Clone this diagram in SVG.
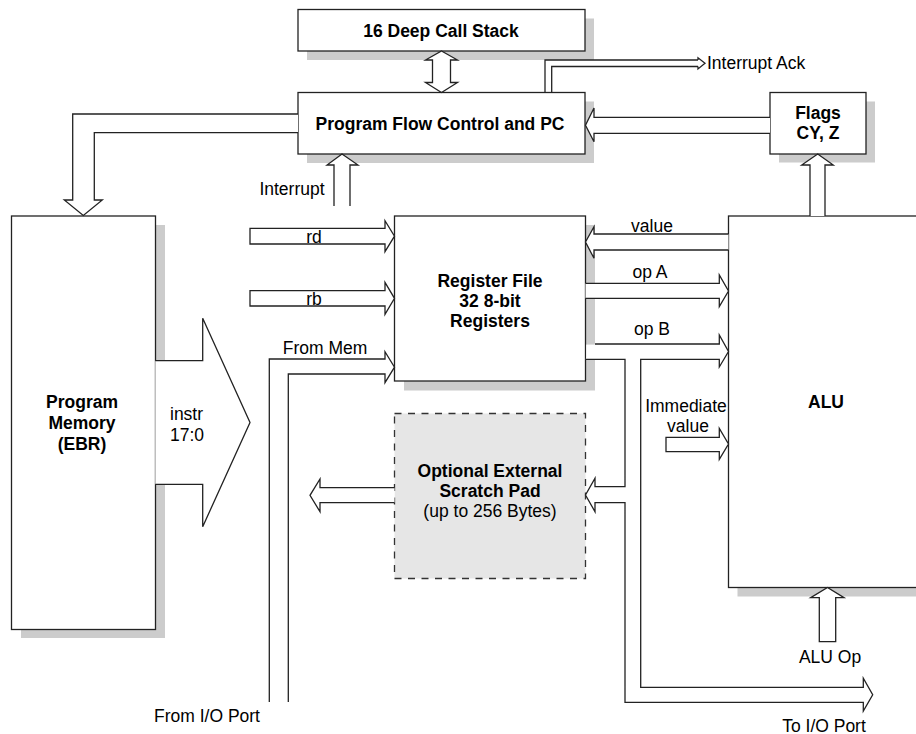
<svg xmlns="http://www.w3.org/2000/svg" width="916" height="734" viewBox="0 0 916 734">
<style>
  text { font-family: "Liberation Sans", Arial, Helvetica, sans-serif; font-size: 17.5px; fill: #000; }
  .b { font-weight: bold; }
  .m { text-anchor: middle; }
  .box { fill: #fff; stroke: #222; stroke-width: 1.3; }
  .sh { fill: #cccccc; stroke: none; }
  .dash { fill: #e6e6e6; stroke: #333; stroke-width: 1.3; stroke-dasharray: 7 6.5; }
  .bus { fill: #fff; stroke: #222; stroke-width: 1.3; stroke-linejoin: miter; }
  .ln { fill: none; stroke: #222; stroke-width: 1.3; }
</style>
<rect x="0" y="0" width="916" height="734" fill="#fff"/>

<!-- shadows -->
<g id="shadows">
  <rect class="sh" x="307" y="18.5" width="287" height="41.5"/>
  <rect class="sh" x="307" y="101.5" width="287" height="61.5"/>
  <rect class="sh" x="779" y="101.5" width="96" height="61"/>
  <rect class="sh" x="21" y="225" width="144" height="413"/>
  <rect class="sh" x="404" y="225" width="191" height="165.5"/>
  <rect class="sh" x="737.5" y="225" width="220" height="371.5"/>
</g>

<g id="call-stack">
  <rect class="box" x="298" y="9.5" width="287" height="41.5"/>
  <text class="b m" x="441" y="36.7">16 Deep Call Stack</text>
</g>

<g id="pfc">
  <rect class="box" x="298" y="92.5" width="287" height="61.5"/>
  <text class="b m" x="440" y="130">Program Flow Control and PC</text>
</g>

<g id="flags">
  <rect class="box" x="770" y="92.5" width="96" height="61.5"/>
  <text class="b m" x="818" y="119.3">Flags</text>
  <text class="b m" x="818" y="139.3">CY, Z</text>
</g>

<g id="program-memory">
  <rect class="box" x="11.5" y="216" width="144" height="413.5"/>
  <text class="b m" x="82" y="408">Program</text>
  <text class="b m" x="82" y="429">Memory</text>
  <text class="b m" x="82" y="450">(EBR)</text>
</g>

<g id="register-file">
  <rect class="box" x="394.5" y="216" width="191" height="165"/>
  <text class="b m" x="490" y="287.3">Register File</text>
  <text class="b m" x="490" y="306.7">32 8-bit</text>
  <text class="b m" x="490" y="326.7">Registers</text>
</g>

<g id="alu">
  <rect class="box" x="728.5" y="216" width="220" height="371.5"/>
  <text class="b m" x="826" y="408.3">ALU</text>
</g>

<g id="scratch-pad">
  <rect class="dash" x="394.5" y="413.5" width="191" height="165"/>
  <text class="b m" x="490" y="477.3">Optional External</text>
  <text class="b m" x="490" y="496.7">Scratch Pad</text>
  <text class="m" x="490" y="517.3">(up to 256 Bytes)</text>
</g>

<g id="connectors">
  <!-- call stack <-> pfc -->
  <polygon class="bus" points="441.5,51 457.5,60 450.5,60 450.5,82.5 457.5,82.5 441.5,92.5 425.5,82.5 432.5,82.5 432.5,60 425.5,60"/>
  <!-- interrupt ack -->
  <polyline class="ln" points="545,92.5 545,60 698,60"/>
  <polyline class="ln" points="551.7,92.5 551.7,66.5 698,66.5"/>
  <polyline class="ln" points="698,60 698,57.8 705,63.3 698,69 698,66.5"/>
  <!-- flags -> pfc -->
  <polyline class="bus" points="770,117.3 594,117.3 594,108 585.5,125.3 594,141.7 594,133.3 770,133.3"/>
  <!-- pfc -> program memory -->
  <polyline class="bus" points="298,114 72.7,114 72.7,200 64.3,200 83.3,215.5 102.3,200 94.3,200 94.3,132.7 298,132.7"/>
  <!-- interrupt -->
  <polyline class="bus" points="334,206 334,165 327,165 342,154 358,165 350,165 350,206"/>
  <!-- alu -> flags -->
  <polyline class="bus" points="810,216 810,165 801.7,165 817.7,154 833.3,165 825,165 825,216"/>
  <!-- instr -->
  <polyline class="bus" points="155.3,360.7 202.7,360.7 202.7,318.3 250,422.5 202.7,526.7 202.7,484.3 155.3,484.3"/>
  <!-- rd / rb -->
  <polygon class="bus" points="250,228.3 385,228.3 385,220.7 394.5,236.2 385,251.7 385,244 250,244"/>
  <polygon class="bus" points="250,290.7 385,290.7 385,282.3 394.5,298.3 385,314.3 385,306 250,306"/>
  <!-- from mem / from I/O port -->
  <polyline class="bus" points="269.3,702 269.3,359 385,359 385,351.7 394.5,367.2 385,382.7 385,374 288.3,374 288.3,702"/>
  <!-- value -->
  <polyline class="bus" points="728.5,234 594,234 594,226.7 585.5,242 594,258.3 594,250 728.5,250"/>
  <!-- op A -->
  <polyline class="bus" points="585.5,283.3 719.3,283.3 719.3,275 728.5,291 719.3,306.7 719.3,298.3 585.5,298.3"/>
  <!-- op B, scratch pad, to I/O port -->
  <rect x="586.2" y="344.6" width="10" height="14.2" fill="#fff"/>
  <path class="bus" d="M595,344 H719.3 V335 L728.5,351.5 L719.3,367 V359.3 H640.7 V687.3 H863.3 V678.3 L872.7,694.7 L863.3,711 V702.3 H625 V502.7 H595 V511.7 L585.5,495 L595,478.3 V486.7 H625 V359.3 H585.5"/>
  <!-- immediate value -->
  <polygon class="bus" points="666,437.3 719.3,437.3 719.3,428.3 728.5,444 719.3,459.3 719.3,451.7 666,451.7"/>
  <!-- scratch pad -> left -->
  <polyline class="bus" points="394.5,487.7 320,487.7 320,479 310,495.3 320,511.7 320,502.7 394.5,502.7"/>
  <!-- alu op -->
  <polygon class="bus" points="819.3,641.7 819.3,597.7 810.7,597.7 827.5,587.5 844,597.7 835.7,597.7 835.7,641.7"/>
</g>

<g id="labels">
  <text class="m" x="292" y="195">Interrupt</text>
  <text x="707" y="68.5">Interrupt Ack</text>
  <text x="170" y="420">instr</text>
  <text x="170" y="440.7">17:0</text>
  <text class="m" x="314" y="242.5">rd</text>
  <text class="m" x="314" y="304.5">rb</text>
  <text class="m" x="325" y="354">From Mem</text>
  <text class="m" x="652" y="231.7">value</text>
  <text class="m" x="650" y="277.7">op A</text>
  <text class="m" x="652" y="335">op B</text>
  <text class="m" x="686" y="412.3">Immediate</text>
  <text class="m" x="688" y="431.7">value</text>
  <text class="m" x="830" y="662.7">ALU Op</text>
  <text class="m" x="207" y="721.7">From I/O Port</text>
  <text class="m" x="824" y="731.5">To I/O Port</text>
</g>
</svg>
